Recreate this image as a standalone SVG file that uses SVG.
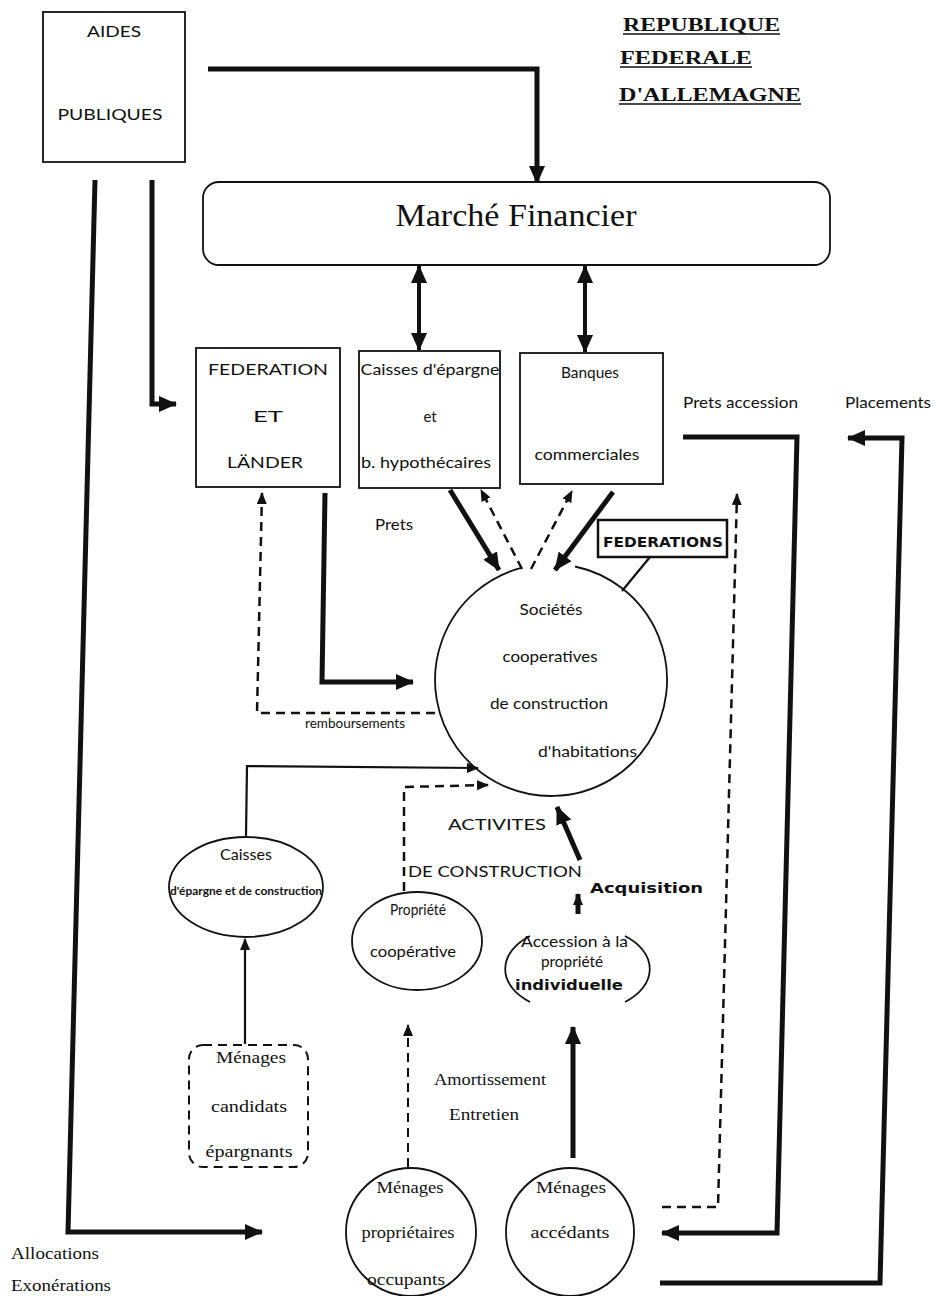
<svg xmlns="http://www.w3.org/2000/svg" width="934" height="1296" viewBox="0 0 934 1296">
<style>
.box{fill:#fff;stroke:#111;stroke-width:1.8}
.nb{fill:none;stroke:#111;stroke-width:1.8}
.thick{fill:none;stroke:#111;stroke-width:5}
.med{fill:none;stroke:#111;stroke-width:2.2}
.dash{fill:none;stroke:#111;stroke-width:2.5;stroke-dasharray:9 6}
.o{font-family:Lato,"Open Sans",sans-serif;font-size:16px;fill:#111;text-anchor:middle}
.s{font-family:"Liberation Serif",serif;font-size:16px;fill:#111;text-anchor:middle}
.st{text-anchor:start}
.h{font-family:"DejaVu Sans",sans-serif;font-weight:bold;font-size:14px;fill:#111}
.ti{font-family:"Liberation Serif",serif;font-weight:bold;font-size:19px;fill:#111}
</style>
<defs>
<marker id="ah" markerUnits="userSpaceOnUse" markerWidth="18" markerHeight="16" refX="17" refY="8" orient="auto-start-reverse" viewBox="0 0 18 16">
<path d="M0,0 L18,8 L0,16 z" fill="#111"/>
</marker>
<marker id="ahs" markerUnits="userSpaceOnUse" markerWidth="12" markerHeight="10" refX="11" refY="5" orient="auto-start-reverse" viewBox="0 0 12 10">
<path d="M0,0 L12,5 L0,10 z" fill="#111"/>
</marker>
</defs>
<rect width="934" height="1296" fill="#fff"/>

<g id="title">
<text class="ti" x="623" y="31" textLength="157" lengthAdjust="spacingAndGlyphs">REPUBLIQUE</text>
<line x1="623" y1="34" x2="780" y2="34" stroke="#111" stroke-width="1.5"/>
<text class="ti" x="620" y="64" textLength="132" lengthAdjust="spacingAndGlyphs">FEDERALE</text>
<line x1="620" y1="67" x2="752" y2="67" stroke="#111" stroke-width="1.5"/>
<text class="ti" x="619" y="101" textLength="182" lengthAdjust="spacingAndGlyphs">D'ALLEMAGNE</text>
<line x1="619" y1="104" x2="801" y2="104" stroke="#111" stroke-width="1.5"/>
</g>

<g id="connectors">
<polyline class="thick" points="208,69 537,69 537,183" marker-end="url(#ah)"/>
<line class="thick" x1="419" y1="266" x2="419" y2="350" style="stroke-width:4" marker-start="url(#ah)" marker-end="url(#ah)"/>
<line class="thick" x1="585" y1="266" x2="585" y2="352" style="stroke-width:4" marker-start="url(#ah)" marker-end="url(#ah)"/>
<polyline class="thick" points="95,180 68,1232 262,1232" marker-end="url(#ah)"/>
<polyline class="thick" points="152,180 152,404 176,404" marker-end="url(#ah)"/>
<polyline class="thick" points="683,437 797,437 777,1233 662,1233" marker-end="url(#ah)"/>
<polyline class="thick" points="660,1283 880,1283 902,438 848,438" marker-end="url(#ah)"/>
<line class="thick" x1="450" y1="490" x2="499" y2="570" marker-end="url(#ah)"/>
<line class="dash" x1="522" y1="569" x2="481" y2="490" marker-end="url(#ahs)"/>
<line class="dash" x1="531" y1="569" x2="572" y2="491" marker-end="url(#ahs)"/>
<line class="thick" x1="613" y1="492" x2="555" y2="570" marker-end="url(#ah)"/>
<line class="med" x1="650" y1="557" x2="622" y2="591"/>
<polyline class="thick" points="325,493 322,682 413,682" marker-end="url(#ah)"/>
<polyline class="dash" points="435,713 257,713 262,493" marker-end="url(#ahs)"/>
<polyline class="med" points="246,836 247,766 478,768" marker-end="url(#ahs)"/>
<polyline class="dash" points="404,891 404,787 488,785" marker-end="url(#ahs)"/>
<line class="thick" x1="580" y1="860" x2="557" y2="807" marker-end="url(#ah)"/>
<line class="thick" x1="578" y1="914" x2="578" y2="894" marker-end="url(#ahs)"/>
<line class="med" x1="245" y1="1044" x2="245" y2="939" marker-end="url(#ahs)"/>
<line class="dash" x1="408" y1="1167" x2="408" y2="1025" style="stroke-width:2" marker-end="url(#ahs)"/>
<line class="thick" x1="573" y1="1158" x2="573" y2="1027" marker-end="url(#ah)"/>
<polyline class="dash" points="662,1207 718,1207 737,494" marker-end="url(#ahs)"/>
</g>

<g id="aides">
<rect class="box" x="43" y="12" width="142" height="150"/>
<text class="o" x="114" y="37" textLength="54" lengthAdjust="spacingAndGlyphs">AIDES</text>
<text class="o" x="110" y="120" textLength="105" lengthAdjust="spacingAndGlyphs">PUBLIQUES</text>
</g>

<g id="marche">
<rect class="box" x="203" y="182" width="627" height="83" rx="16"/>
<text class="s" x="516" y="226" style="font-size:32px" textLength="241" lengthAdjust="spacingAndGlyphs">Marché Financier</text>
</g>

<g id="federation">
<rect class="box" x="196" y="348" width="144" height="139"/>
<text class="o" x="268" y="375" textLength="120" lengthAdjust="spacingAndGlyphs">FEDERATION</text>
<text class="o" x="268" y="422" textLength="30" lengthAdjust="spacingAndGlyphs">ET</text>
<text class="o" x="265" y="468" textLength="76" lengthAdjust="spacingAndGlyphs">LÄNDER</text>
</g>

<g id="caisses">
<rect class="box" x="359" y="351" width="141" height="137"/>
<text class="o" x="430" y="375" textLength="139" lengthAdjust="spacingAndGlyphs">Caisses d'épargne</text>
<text class="o" x="430" y="422" style="font-size:15px">et</text>
<text class="o" x="426" y="468" textLength="130" lengthAdjust="spacingAndGlyphs">b. hypothécaires</text>
</g>

<g id="banques">
<rect class="box" x="520" y="353" width="143" height="131"/>
<text class="o" x="590" y="378" textLength="58" lengthAdjust="spacingAndGlyphs">Banques</text>
<text class="o" x="587" y="460" textLength="105" lengthAdjust="spacingAndGlyphs">commerciales</text>
</g>

<g id="labels">
<text class="o st" x="683" y="408" textLength="115" lengthAdjust="spacingAndGlyphs">Prets accession</text>
<text class="o st" x="845" y="408" textLength="86" lengthAdjust="spacingAndGlyphs">Placements</text>
<text class="o st" x="375" y="530" textLength="38" lengthAdjust="spacingAndGlyphs">Prets</text>
<text class="o st" x="305" y="728" style="font-size:13px" textLength="100" lengthAdjust="spacingAndGlyphs">remboursements</text>
<text class="o st" x="448" y="830" textLength="98" lengthAdjust="spacingAndGlyphs">ACTIVITES</text>
<text class="o st" x="408" y="877" textLength="174" lengthAdjust="spacingAndGlyphs">DE CONSTRUCTION</text>
<text class="h" x="590" y="893" textLength="113" lengthAdjust="spacingAndGlyphs">Acquisition</text>
<text class="s st" x="434" y="1085" textLength="112" lengthAdjust="spacingAndGlyphs">Amortissement</text>
<text class="s st" x="449" y="1120" textLength="70" lengthAdjust="spacingAndGlyphs">Entretien</text>
<text class="s st" x="11" y="1259" textLength="88" lengthAdjust="spacingAndGlyphs">Allocations</text>
<text class="s st" x="11" y="1291" textLength="100" lengthAdjust="spacingAndGlyphs">Exonérations</text>
</g>

<g id="federations">
<rect class="nb" x="598" y="520" width="129" height="37" style="stroke-width:2.5"/>
<text class="h" x="603" y="547" textLength="120" lengthAdjust="spacingAndGlyphs">FEDERATIONS</text>
</g>

<g id="societes">
<path class="nb" d="M575,566.5 A116,116 0 1 1 522,567.7"/>
<text class="o" x="551" y="615" textLength="63" lengthAdjust="spacingAndGlyphs">Sociétés</text>
<text class="o" x="550" y="662" textLength="95" lengthAdjust="spacingAndGlyphs">cooperatives</text>
<text class="o" x="549" y="709" textLength="118" lengthAdjust="spacingAndGlyphs">de construction</text>
<text class="o st" x="538" y="757" textLength="99" lengthAdjust="spacingAndGlyphs">d'habitations</text>
</g>

<g id="caisses-construction">
<ellipse class="nb" cx="246" cy="887" rx="77" ry="50"/>
<text class="o" x="246" y="860" textLength="52" lengthAdjust="spacingAndGlyphs">Caisses</text>
<text class="o" x="246" y="895" style="font-size:11px;font-weight:bold" textLength="152" lengthAdjust="spacingAndGlyphs">d'épargne et de construction</text>
</g>

<g id="propriete">
<ellipse class="nb" cx="417" cy="941" rx="65" ry="49"/>
<text class="o" x="418" y="915" textLength="56" lengthAdjust="spacingAndGlyphs">Propriété</text>
<text class="o" x="413" y="957" textLength="86" lengthAdjust="spacingAndGlyphs">coopérative</text>
</g>

<g id="accession">
<path class="nb" d="M530,936 A65,42 0 0 0 530,1002"/>
<path class="nb" d="M625,936 A65,42 0 0 1 625,1002"/>
<text class="o st" x="521" y="947" textLength="107" lengthAdjust="spacingAndGlyphs">Accession à la</text>
<text class="o" x="572" y="967" textLength="62" lengthAdjust="spacingAndGlyphs">propriété</text>
<text class="h" x="515" y="990" textLength="108" lengthAdjust="spacingAndGlyphs">individuelle</text>
</g>

<g id="candidats">
<rect class="dash" x="189" y="1045" width="119" height="122" rx="14" style="stroke-width:2"/>
<text class="s" x="251" y="1063" textLength="70" lengthAdjust="spacingAndGlyphs">Ménages</text>
<text class="s" x="249" y="1112" textLength="76" lengthAdjust="spacingAndGlyphs">candidats</text>
<text class="s" x="249" y="1157" textLength="87" lengthAdjust="spacingAndGlyphs">épargnants</text>
</g>

<g id="proprietaires">
<ellipse class="nb" cx="411" cy="1232" rx="65" ry="64"/>
<text class="s" x="410" y="1193" textLength="67" lengthAdjust="spacingAndGlyphs">Ménages</text>
<text class="s" x="408" y="1238" textLength="93" lengthAdjust="spacingAndGlyphs">propriétaires</text>
<text class="s" x="406" y="1285" textLength="78" lengthAdjust="spacingAndGlyphs">occupants</text>
</g>

<g id="accedants">
<ellipse class="nb" cx="570" cy="1232" rx="64" ry="64"/>
<text class="s" x="571" y="1193" textLength="70" lengthAdjust="spacingAndGlyphs">Ménages</text>
<text class="s" x="570" y="1238" textLength="79" lengthAdjust="spacingAndGlyphs">accédants</text>
</g>
</svg>
